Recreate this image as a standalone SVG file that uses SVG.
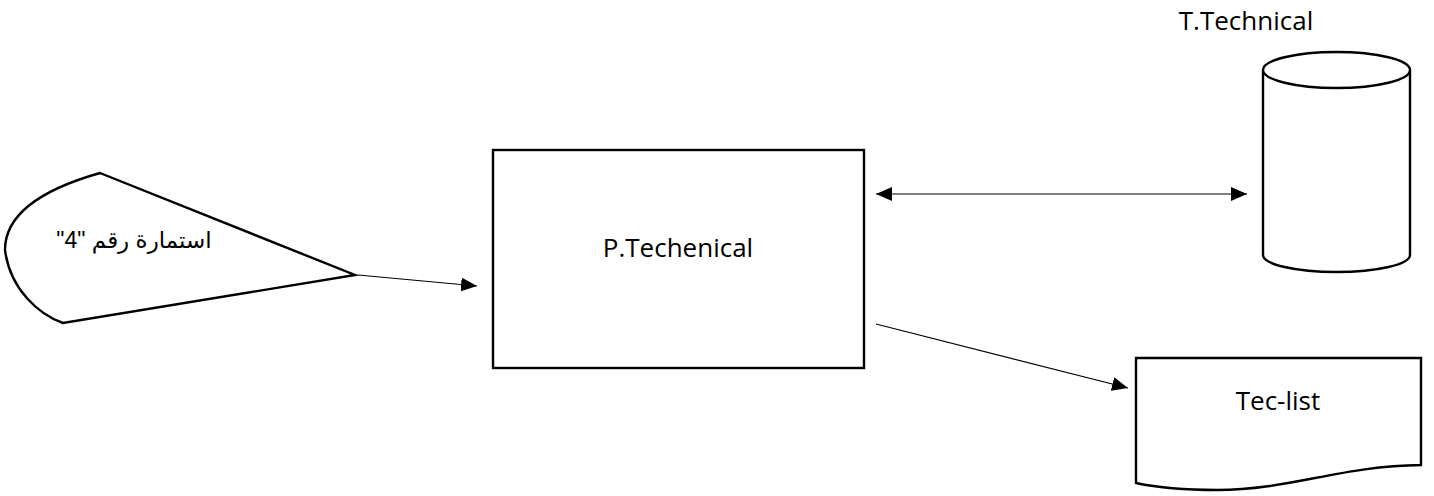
<svg xmlns="http://www.w3.org/2000/svg" width="1434" height="496" viewBox="0 0 1434 496">
<style>
.shape{fill:#fff;stroke:#000;stroke-width:2.4}
.conn{fill:none;stroke:#000;stroke-width:1.2}
.lbl{font-family:"Open Sans","Liberation Sans",sans-serif;font-size:26px;fill:#000}
.ar{font-family:"Liberation Sans","DejaVu Sans",sans-serif;font-size:23px;fill:#000}
</style>
<defs>
<marker id="arrow" markerUnits="userSpaceOnUse" markerWidth="17" markerHeight="14" refX="16" refY="7" orient="auto-start-reverse">
<path d="M0,0 L16,7 L0,14 Z" fill="#000"/>
</marker>
</defs>
<rect width="1434" height="496" fill="#fff"/>
<g id="input-form">
<path class="shape" d="M100,173 L355,275 L63,323 C40,315 10,290 5,250 C5,215 40,190 100,173 Z"/>
<text class="ar" x="134" y="248" text-anchor="middle" direction="rtl">استمارة رقم "4"</text>
</g>
<g id="process">
<rect class="shape" x="493" y="150" width="371" height="218"/>
<text class="lbl" x="678" y="257" text-anchor="middle">P.Techenical</text>
</g>
<g id="datastore">
<path class="shape" d="M1263,70 L1263,255 A73.5,17 0 0 0 1410,255 L1410,70"/>
<ellipse class="shape" cx="1336.5" cy="70" rx="73.5" ry="18"/>
<text class="lbl" x="1246" y="30" text-anchor="middle">T.Technical</text>
</g>
<g id="document">
<path class="shape" d="M1136,358 H1421 V465 C1340,466 1290,490 1217,490 C1180,490 1150,486 1136,483 Z"/>
<text class="lbl" x="1278" y="410" text-anchor="middle">Tec-list</text>
</g>
<g id="connectors">
<line class="conn" x1="358" y1="275" x2="477" y2="286" marker-end="url(#arrow)"/>
<line class="conn" x1="876" y1="194" x2="1247" y2="194" marker-start="url(#arrow)" marker-end="url(#arrow)"/>
<line class="conn" x1="876" y1="324" x2="1128" y2="388" marker-end="url(#arrow)"/>
</g>
</svg>
